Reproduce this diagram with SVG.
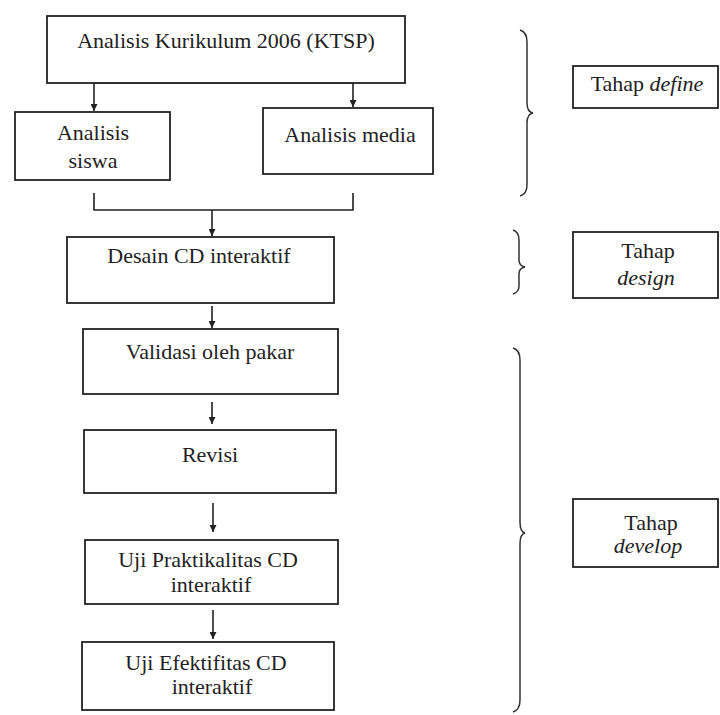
<svg xmlns="http://www.w3.org/2000/svg" width="720" height="715" viewBox="0 0 720 715">
<defs>
<marker id="ah" viewBox="0 0 10 10" refX="10" refY="5" markerWidth="7" markerHeight="7" markerUnits="userSpaceOnUse" orient="auto">
<path d="M0,0 L10,5 L0,10 z" fill="#222"/>
</marker>
<style>
.box{fill:#fff;stroke:#222;stroke-width:1.8}
.t{font-size:22px;fill:#222;text-anchor:middle}
.i{font-style:italic}
.c{fill:none;stroke:#222;stroke-width:1.6}
.br{fill:none;stroke:#333;stroke-width:1.5}
</style>
</defs>
<rect width="720" height="715" fill="#fff"/>

<g id="connectors">
<line class="c" x1="212" y1="63" x2="212" y2="83"/>
<line class="c" x1="94" y1="83" x2="353" y2="83"/>
<line class="c" x1="94" y1="83" x2="94" y2="111" marker-end="url(#ah)"/>
<line class="c" x1="353" y1="83" x2="353" y2="107" marker-end="url(#ah)"/>
<path class="c" d="M94,193 V210 H353 V193"/>
<line class="c" x1="212" y1="210" x2="212" y2="236" marker-end="url(#ah)"/>
<line class="c" x1="212" y1="306" x2="212" y2="328" marker-end="url(#ah)"/>
<line class="c" x1="212" y1="402" x2="212" y2="424" marker-end="url(#ah)"/>
<line class="c" x1="213" y1="503" x2="213" y2="532" marker-end="url(#ah)"/>
<line class="c" x1="213" y1="610" x2="213" y2="639" marker-end="url(#ah)"/>
</g>

<g font-family="Liberation Serif, Times New Roman, DejaVu Serif, serif">
<g id="n-kurikulum">
<rect class="box" x="47" y="16" width="358" height="67"/>
<text class="t" x="226" y="48">Analisis Kurikulum 2006 (KTSP)</text>
</g>
<g id="n-siswa">
<rect class="box" x="15" y="112" width="155" height="68"/>
<text class="t" x="93" y="140">Analisis</text>
<text class="t" x="93" y="168">siswa</text>
</g>
<g id="n-media">
<rect class="box" x="263" y="108" width="170" height="66"/>
<text class="t" x="350" y="142">Analisis media</text>
</g>
<g id="n-desain">
<rect class="box" x="67" y="237" width="267" height="66"/>
<text class="t" x="199" y="263">Desain CD interaktif</text>
</g>
<g id="n-validasi">
<rect class="box" x="83" y="329" width="255" height="65"/>
<text class="t" x="210" y="359">Validasi oleh pakar</text>
</g>
<g id="n-revisi">
<rect class="box" x="84" y="430" width="252" height="63"/>
<text class="t" x="210" y="462">Revisi</text>
</g>
<g id="n-praktikalitas">
<rect class="box" x="85" y="540" width="253" height="64"/>
<text class="t" x="208" y="567">Uji Praktikalitas CD</text>
<text class="t" x="211" y="592">interaktif</text>
</g>
<g id="n-efektifitas">
<rect class="box" x="82" y="642" width="252" height="68"/>
<text class="t" x="206" y="670">Uji Efektifitas CD</text>
<text class="t" x="212" y="694">interaktif</text>
</g>

<g id="brace-define">
<path class="br" d="M520,30 Q527,32 527,42 L527,103 Q527,112 533,113 Q527,114 527,123 L527,185 Q527,194 520,196"/>
</g>
<g id="brace-design">
<path class="br" d="M513,230 Q519,232 519,240 L519,260 Q519,266 525,267 Q519,268 519,274 L519,286 Q519,292 513,294"/>
</g>
<g id="brace-develop">
<path class="br" d="M513,348 Q520,350 520,360 L520,522 Q520,532 525,533 Q520,534 520,544 L520,700 Q520,710 513,712"/>
</g>

<g id="n-define">
<rect class="box" x="573" y="66" width="145" height="42"/>
<text class="t" x="647" y="91">Tahap <tspan class="i">define</tspan></text>
</g>
<g id="n-design">
<rect class="box" x="573" y="232" width="145" height="66"/>
<text class="t" x="648" y="258">Tahap</text>
<text class="t i" x="646" y="285">design</text>
</g>
<g id="n-develop">
<rect class="box" x="573" y="499" width="145" height="68"/>
<text class="t" x="651" y="530">Tahap</text>
<text class="t i" x="648" y="553">develop</text>
</g>
</g>
</svg>
